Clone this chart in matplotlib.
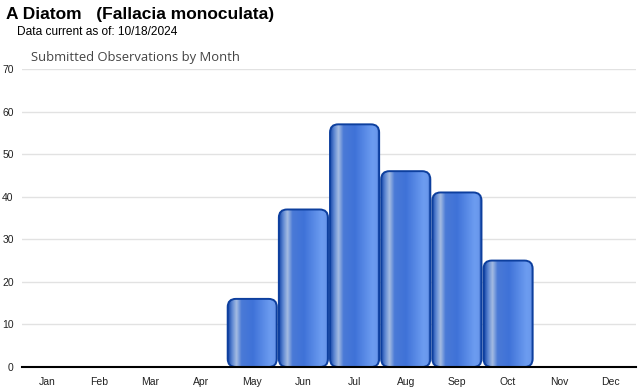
import numpy as np
import matplotlib
matplotlib.use("Agg")
import matplotlib.pyplot as plt
from matplotlib.patches import FancyBboxPatch
from matplotlib.colors import LinearSegmentedColormap

months = ["Jan", "Feb", "Mar", "Apr", "May", "Jun", "Jul", "Aug", "Sep", "Oct", "Nov", "Dec"]
counts = [0, 0, 0, 0, 16, 37, 57, 46, 41, 25, 0, 0]
yticks = [0, 10, 20, 30, 40, 50, 60, 70]

W, H = 640, 390
fig = plt.figure(figsize=(W / 100, H / 100), dpi=100)
x0, x1, ytop, ybot = 22, 636, 69, 367
ax = fig.add_axes([x0 / W, (H - ybot) / H, (x1 - x0) / W, (ybot - ytop) / H])
ax.set_xlim(-0.5, 11.5)
ax.set_ylim(0, 70)

cmap = LinearSegmentedColormap.from_list("bar", [
    (0.0, "#1546a8"), (0.08, "#5c86d2"), (0.17, "#a5bce2"), (0.27, "#4a7ad6"),
    (0.5, "#3f72d8"), (0.85, "#6c9cf0"), (0.94, "#6a98ec"), (1.0, "#1546a8")])
grad = np.linspace(0, 1, 256).reshape(1, -1)

xpp = 12 / (x1 - x0)
ypp = 70 / (ybot - ytop)
aspect = ypp / xpp
bw = 0.96
for i, v in enumerate(counts):
    if v <= 0:
        continue
    left = i - bw / 2
    patch = FancyBboxPatch((left, 0), bw, v,
                           boxstyle="round,pad=0,rounding_size=0.16",
                           mutation_aspect=aspect,
                           facecolor="none", edgecolor="#0d3f9e", linewidth=1.4, zorder=4)
    ax.add_patch(patch)
    im = ax.imshow(grad, cmap=cmap, aspect="auto", extent=(left, left + bw, 0, v),
                   zorder=3, interpolation="bilinear")
    im.set_clip_path(patch)
ax.set_xlim(-0.5, 11.5)
ax.set_ylim(0, 70)

ax.set_yticks(yticks)
ax.set_yticklabels([str(t) for t in yticks])
ax.set_xticks(range(12))
ax.set_xticklabels(months)
ax.tick_params(length=0, labelsize=7.5, colors="#222222")
ax.tick_params(axis="x", pad=7)
ax.tick_params(axis="y", pad=6)
for lab in ax.get_xticklabels() + ax.get_yticklabels():
    lab.set_family("Liberation Sans")
ax.grid(axis="y", color="#e2e2e2", linewidth=1)
ax.set_axisbelow(True)
for s in ["top", "right", "left"]:
    ax.spines[s].set_visible(False)
ax.spines["bottom"].set_color("black")
ax.spines["bottom"].set_linewidth(1.5)
ax.spines["bottom"].set_zorder(5)

fig.text(6 / W, 1 - 15 / H, "A Diatom   (Fallacia monoculata)", fontsize=12.5,
         fontweight="bold", family="Liberation Sans", va="center", ha="left")
fig.text(17 / W, 1 - 32 / H, "Data current as of: 10/18/2024", fontsize=8.6,
         family="Liberation Sans", va="center", ha="left")
fig.text(31 / W, 1 - 58 / H, "Submitted Observations by Month", fontsize=9.4,
         color="#444444", family="Open Sans", va="center", ha="left")

fig.savefig("out.png", dpi=100)
